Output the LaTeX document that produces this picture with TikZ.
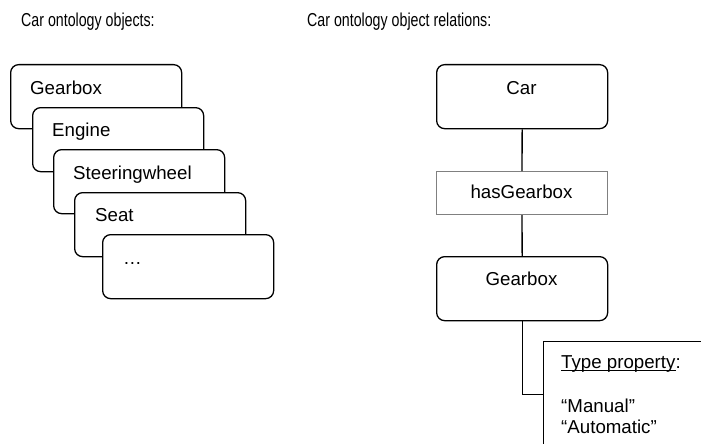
\documentclass[tikz,border=0pt]{standalone}
\usepackage{fontspec}
\setmainfont{Liberation Sans}
\usepackage{graphicx}

% underline that sits just under the baseline, crossing descenders
\newcommand\baseul[1]{\setbox0\hbox{#1}\rlap{\rule[-2.6pt]{\wd0}{0.9pt}}\box0}

\tikzset{
  obj/.style={draw, line width=1.3pt, fill=white, rounded corners=8pt,
    minimum width=171pt, minimum height=64pt, inner sep=0pt, anchor=north west},
  rel/.style={draw=black!50, line width=1.1pt, fill=white,
    minimum width=171pt, minimum height=43pt, inner sep=0pt, anchor=north west},
  prop/.style={draw, line width=1.3pt, fill=white,
    minimum width=190pt, minimum height=106pt, inner sep=0pt, anchor=north west},
  lbl/.style={inner sep=0pt, anchor=base west, font=\fontsize{18.7}{21}\selectfont},
  clbl/.style={inner sep=0pt, anchor=base, font=\fontsize{18.7}{21}\selectfont},
  link/.style={line width=1.3pt},
}

\begin{document}
\begin{tikzpicture}[x=1pt, y=-1pt]
  \useasboundingbox (0,0) rectangle (701,444);
  \clip (0,0) rectangle (701,444);

  % headings
  \node[lbl] (hobj) at (21,27) {\scalebox{0.76}[1]{Car ontology objects:}};
  \node[lbl] (hrel) at (307,27) {\scalebox{0.76}[1]{Car ontology object relations:}};

  % stack of ontology objects
  \node[obj] (o1) at (10,64) {};
  \node[lbl] (t1) at (30,94) {Gearbox};
  \node[obj] (o2) at (32,107) {};
  \node[lbl] (t2) at (52,136) {Engine};
  \node[obj] (o3) at (53,149) {};
  \node[lbl] (t3) at (73,179) {Steeringwheel};
  \node[obj] (o4) at (74,192) {};
  \node[lbl] (t4) at (95,221) {Seat};
  \node[obj] (o5) at (102,234) {};
  \node[lbl] (t5) at (123,264) {…};

  % object relations
  \node[obj] (car) at (436,64) {};
  \node[clbl] (tcar) at (521.5,94) {Car};
  \node[rel] (has) at (436,171) {};
  \node[clbl] (thas) at (521.5,198) {hasGearbox};
  \node[obj] (gb) at (436,256) {};
  \node[clbl] (tgb) at (521.5,285) {Gearbox};
  \node[prop] (tp) at (543,341) {};
  \node[lbl] (tpa) at (561,368) {\baseul{Type property}:};
  \node[lbl] (tpb) at (561,412) {“Manual”};
  \node[lbl] (tpc) at (561,433) {“Automatic”};

  \draw[link] (car.south) -- (has.north);
  \draw[link] (has.south) -- (gb.north);
  \draw[link] (gb.south) |- (tp.west);
\end{tikzpicture}
\end{document}
